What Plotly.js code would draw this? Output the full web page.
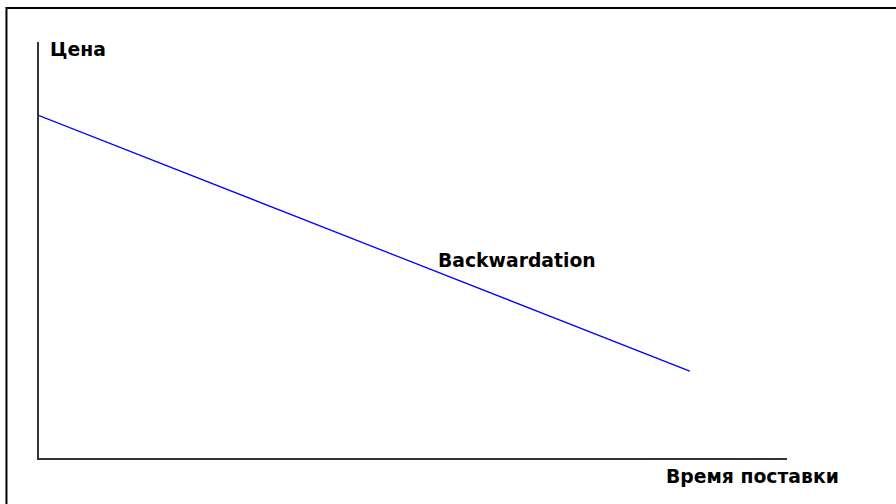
<!DOCTYPE html>
<html>
<head>
<meta charset="utf-8">
<script src="https://cdn.plot.ly/plotly-3.0.1.min.js"></script>
<style>html,body{margin:0;padding:0;background:#fff;}#chart{width:896px;height:504px;}</style>
</head>
<body>
<div id="chart"></div>
<script>
// Data
var deliveryTime = [0, 87];
var price = [82.3, 20.9];
var seriesLabel = "Backwardation";
var yLabel = "Цена";
var xLabel = "Время поставки";

var FONT = "DejaVu Sans, sans-serif";
var FS = 18.8;

var trace = {
  x: deliveryTime,
  y: price,
  type: "scatter",
  mode: "lines",
  line: {color: "#0000ff", width: 1.3},
  hoverinfo: "skip",
  showlegend: false
};

var layout = {
  width: 896,
  height: 504,
  margin: {l: 39, r: 109, t: 42, b: 46},
  paper_bgcolor: "#ffffff",
  plot_bgcolor: "#ffffff",
  showlegend: false,
  xaxis: {
    range: [0, 100],
    showgrid: false, zeroline: false, showticklabels: false, ticks: "",
    showline: true, linecolor: "#333333", linewidth: 2, fixedrange: true
  },
  yaxis: {
    range: [0, 100],
    showgrid: false, zeroline: false, showticklabels: false, ticks: "",
    showline: true, linecolor: "#333333", linewidth: 2, fixedrange: true
  },
  shapes: [{
    type: "rect", xref: "paper", yref: "paper",
    x0: -0.0435, x1: 2, y0: -1, y1: 1.0817,
    line: {color: "#000000", width: 2}, fillcolor: "rgba(0,0,0,0)", layer: "below"
  }],
  annotations: [
    {text: "<b>" + yLabel + "</b>", xref: "paper", yref: "paper", x: 0.0115, y: 0.981,
     xanchor: "left", yanchor: "middle", showarrow: false, font: {family: FONT, size: FS, color: "#000"}},
    {text: "<b>" + seriesLabel + "</b>", xref: "paper", yref: "paper", x: 0.531, y: 0.474,
     xanchor: "left", yanchor: "middle", showarrow: false, font: {family: FONT, size: FS, color: "#000"}},
    {text: "<b>" + xLabel + "</b>", xref: "paper", yref: "paper", x: 0.836, y: -0.045,
     xanchor: "left", yanchor: "middle", showarrow: false, font: {family: FONT, size: FS, color: "#000"}}
  ]
};

Plotly.newPlot("chart", [trace], layout, {displayModeBar: false, staticPlot: true});
</script>
</body>
</html>
